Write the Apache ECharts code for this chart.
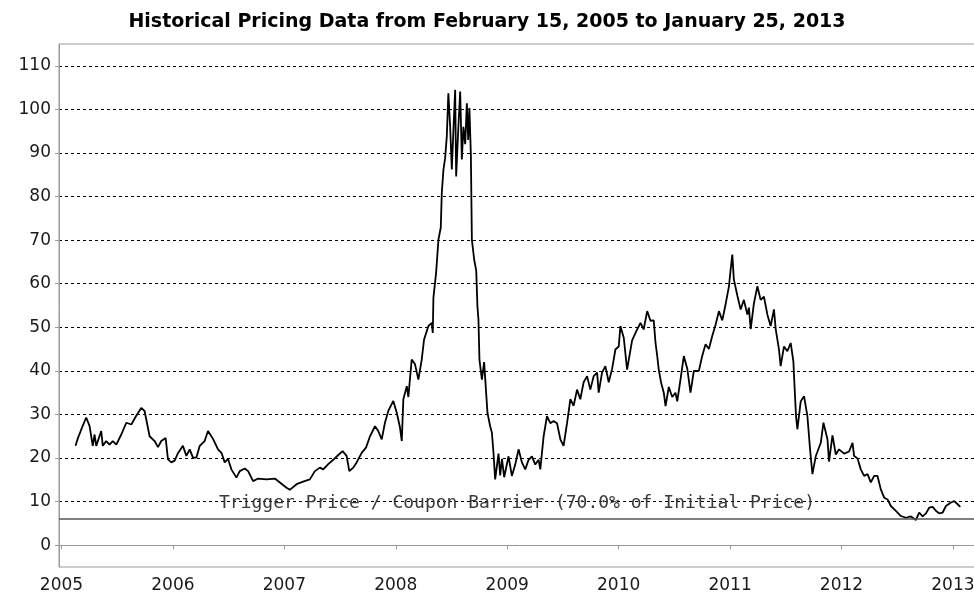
<!DOCTYPE html>
<html>
<head>
<meta charset="utf-8">
<script src="https://cdn.jsdelivr.net/npm/echarts@6/dist/echarts.min.js"></script>
<style>
html,body{margin:0;padding:0;background:#fff;}
#chart{width:974px;height:597px;}
</style>
</head>
<body>
<div id="chart"></div>
<script>
const titleText = 'Historical Pricing Data from February 15, 2005 to January 25, 2013';
const barrierLabel = 'Trigger Price / Coupon Barrier (70.0% of Initial Price)';
const barrier = 6.15;
const yearTicks = [2005, 2006, 2007, 2008, 2009, 2010, 2011, 2012, 2013];
const valueTicks = [0, 10, 20, 30, 40, 50, 60, 70, 80, 90, 100, 110];

const years = [
2005.126,2005.147,2005.177,2005.222,2005.252,2005.281,2005.297,2005.312,2005.357,2005.371,
2005.402,2005.431,2005.461,2005.492,2005.537,2005.582,2005.627,2005.671,2005.716,2005.746,
2005.767,2005.791,2005.836,2005.866,2005.896,2005.935,2005.956,2005.986,2006.016,2006.045,
2006.090,2006.121,2006.151,2006.180,2006.211,2006.241,2006.285,2006.315,2006.360,2006.405,
2006.436,2006.465,2006.495,2006.525,2006.570,2006.600,2006.645,2006.675,2006.720,2006.765,
2006.780,2006.840,2006.915,2006.960,2007.020,2007.049,2007.110,2007.169,2007.229,2007.274,
2007.319,2007.349,2007.394,2007.439,2007.484,2007.523,2007.559,2007.583,2007.619,2007.649,
2007.694,2007.733,2007.769,2007.814,2007.843,2007.874,2007.903,2007.933,2007.978,2008.009,
2008.038,2008.054,2008.068,2008.099,2008.113,2008.143,2008.173,2008.203,2008.233,2008.254,
2008.293,2008.323,2008.332,2008.338,2008.362,2008.383,2008.404,2008.413,2008.428,2008.443,
2008.458,2008.472,2008.488,2008.503,2008.517,2008.533,2008.542,2008.562,2008.578,2008.593,
2008.607,2008.623,2008.638,2008.650,2008.661,2008.674,2008.683,2008.704,2008.722,2008.733,
2008.742,2008.751,2008.773,2008.793,2008.811,2008.823,2008.847,2008.863,2008.877,2008.892,
2008.922,2008.937,2008.953,2008.967,2008.973,2009.012,2009.042,2009.072,2009.102,2009.132,
2009.162,2009.192,2009.222,2009.252,2009.282,2009.297,2009.327,2009.357,2009.387,2009.416,
2009.447,2009.477,2009.506,2009.537,2009.567,2009.596,2009.627,2009.656,2009.686,2009.717,
2009.746,2009.776,2009.807,2009.821,2009.851,2009.881,2009.911,2009.941,2009.971,2010.001,
2010.016,2010.046,2010.076,2010.121,2010.166,2010.196,2010.225,2010.256,2010.286,2010.315,
2010.331,2010.346,2010.360,2010.382,2010.405,2010.421,2010.450,2010.481,2010.510,2010.526,
2010.555,2010.585,2010.616,2010.645,2010.675,2010.720,2010.750,2010.780,2010.810,2010.840,
2010.870,2010.900,2010.930,2010.960,2010.990,2011.005,2011.020,2011.034,2011.065,2011.095,
2011.124,2011.155,2011.169,2011.185,2011.214,2011.245,2011.274,2011.304,2011.335,2011.364,
2011.394,2011.409,2011.439,2011.454,2011.484,2011.514,2011.544,2011.568,2011.580,2011.592,
2011.604,2011.634,2011.664,2011.694,2011.718,2011.739,2011.769,2011.814,2011.838,2011.874,
2011.888,2011.919,2011.949,2011.978,2011.994,2012.023,2012.068,2012.099,2012.113,2012.144,
2012.173,2012.203,2012.234,2012.263,2012.293,2012.323,2012.353,2012.383,2012.413,2012.443,
2012.488,2012.533,2012.578,2012.623,2012.668,2012.697,2012.728,2012.758,2012.787,2012.818,
2012.847,2012.877,2012.908,2012.937,2012.982,2013.012,2013.042,2013.066
];

const prices = [
22.8,24.5,26.5,29.3,27.4,22.8,25.4,22.8,26.2,22.8,
23.9,23.1,23.9,23.1,25.4,28.1,27.7,29.7,31.5,30.8,
28.1,25.0,23.9,22.5,23.9,24.6,19.7,19.0,19.4,21.1,
22.8,20.5,22.0,20.1,20.1,22.8,23.9,26.2,24.4,22.0,
21.2,19.0,19.8,17.4,15.5,17.0,17.6,17.0,14.7,15.3,
15.5,15.1,15.3,14.4,13.2,12.7,14.0,14.6,15.1,17.0,
17.8,17.4,18.6,19.6,20.7,21.6,20.5,17.0,17.8,19.0,
21.2,22.4,25.0,27.3,26.2,24.3,28.1,30.8,33.1,30.4,
27.0,23.9,33.5,36.5,34.0,42.6,41.5,38.0,42.6,47.2,
50.3,51.0,48.7,56.8,62.5,70.1,72.9,80.8,86.2,88.8,
93.8,103.7,96.1,86.2,95.0,104.5,84.6,96.0,104.1,88.5,
96.0,92.0,101.4,93.0,100.3,89.6,70.1,65.5,63.0,54.8,
51.8,42.6,38.0,42.0,35.0,30.4,27.3,25.8,21.2,15.1,
21.0,16.0,19.8,19.8,15.6,20.4,15.9,18.5,22.0,19.0,
17.4,19.6,20.4,18.5,19.6,17.4,25.0,29.6,28.0,28.5,
28.0,24.3,22.8,28.0,33.5,32.0,35.7,33.5,37.4,38.8,
35.7,38.8,39.6,35.0,39.6,41.1,37.4,40.4,44.9,45.6,
50.3,47.6,40.3,47.0,49.5,51.0,49.5,53.7,51.5,51.6,
46.4,43.5,40.3,37.2,35.0,31.9,36.3,34.0,35.0,33.0,
38.0,43.4,40.5,35.0,40.0,40.0,43.4,46.1,45.0,48.0,
50.6,53.7,51.6,55.3,59.4,63.2,66.7,61.0,57.3,54.1,
56.3,52.9,54.5,49.6,55.5,59.4,56.3,57.0,52.9,50.3,
54.1,49.7,44.9,41.1,45.6,44.5,46.4,42.2,35.7,29.6,
26.6,33.0,34.2,29.6,22.0,16.3,20.4,23.5,28.1,24.3,
19.2,25.2,20.8,22.0,22.1,21.0,21.5,23.5,20.5,19.9,
17.4,15.9,16.3,14.4,15.9,15.9,12.8,10.9,10.5,9.0,
7.9,6.7,6.3,6.6,5.8,7.5,6.6,7.3,8.6,8.8,
7.9,7.3,7.5,9.0,9.8,10.1,9.4,8.79
];

const seriesData = years.map((y, i) => [y, prices[i]]);
const fontMain = 'DejaVu Sans';

const chart = echarts.init(document.getElementById('chart'), null, {renderer: 'canvas'});
chart.setOption({
  animation: false,
  backgroundColor: '#ffffff',
  title: {
    text: titleText,
    left: 'center',
    top: 8,
    textStyle: {fontFamily: 'DejaVu Sans', fontWeight: 'bold', fontSize: 19, color: '#000'}
  },
  grid: {
    left: 59, top: 44, right: -1, bottom: 30,
    containLabel: false,
    outerBoundsMode: 'none',
    show: true, borderColor: '#9a9a9a', borderWidth: 1, backgroundColor: '#fff'
  },
  xAxis: {
    type: 'value',
    min: 2004.978,
    max: 2013.198,
    axisLine: {show: true, lineStyle: {color: '#9a9a9a', width: 1}},
    axisTick: {show: true, length: 4, lineStyle: {color: '#9a9a9a'}, customValues: yearTicks},
    axisLabel: {
      customValues: yearTicks, margin: 10,
      fontFamily: fontMain, fontSize: 17, color: '#1a1a1a',
      formatter: v => String(Math.round(v))
    },
    splitLine: {show: false}
  },
  yAxis: {
    type: 'value',
    min: -5,
    max: 115,
    axisLine: {show: true, lineStyle: {color: '#9a9a9a', width: 1}},
    axisTick: {show: true, length: 4, lineStyle: {color: '#9a9a9a'}, customValues: valueTicks},
    axisLabel: {
      customValues: valueTicks, margin: 8,
      fontFamily: fontMain, fontSize: 17, color: '#1a1a1a'
    },
    splitLine: {show: true, lineStyle: {color: '#000', width: 1, type: [3, 3]}}
  },
  series: [{
    type: 'line',
    data: seriesData,
    showSymbol: false,
    symbol: 'none',
    lineStyle: {color: '#000', width: 1.8},
    silent: true,
    markLine: {
      silent: true,
      symbol: 'none',
      data: [{yAxis: barrier}],
      lineStyle: {color: '#555', width: 1.5, type: 'solid'},
      label: {
        show: true,
        position: 'insideMiddleTop',
        distance: 6,
        formatter: barrierLabel,
        fontFamily: 'DejaVu Sans Mono', fontSize: 18, color: '#3a3a3a'
      }
    }
  }]
});
</script>
</body>
</html>
